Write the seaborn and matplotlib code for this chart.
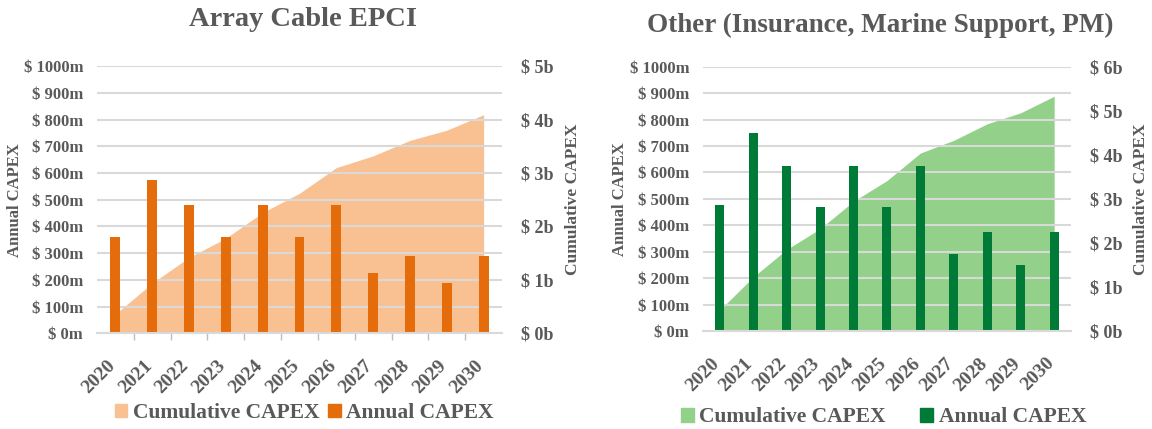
import matplotlib
matplotlib.use("Agg")
import matplotlib.pyplot as plt
import matplotlib.transforms as mtransforms
import seaborn as sns
import pandas as pd
from matplotlib.patches import Patch
from matplotlib.ticker import FuncFormatter, FixedLocator

# Data
years = ["2020", "2021", "2022", "2023", "2024", "2025", "2026", "2027", "2028", "2029", "2030"]

cable_annual = [360, 575, 480, 360, 480, 360, 480, 225, 288, 190, 288]          # $m
cable_cumulative = [0.36, 0.94, 1.42, 1.78, 2.26, 2.62, 3.10, 3.32, 3.61, 3.80, 4.09]  # $b

other_annual = [475, 750, 625, 470, 625, 470, 625, 290, 375, 250, 375]          # $m
other_cumulative = [0.475, 1.225, 1.85, 2.32, 2.945, 3.415, 4.04, 4.33, 4.705, 4.955, 5.33]  # $b

TEXT = "#595959"
GRID = "#d9d9d9"

sns.set_theme(style="white")
plt.rcParams["font.family"] = ["Liberation Serif", "DejaVu Serif"]
plt.rcParams["font.weight"] = "bold"


def draw_panel(fig, rect, title, title_xy, title_size, annual, cumulative, cum_max,
               bar_color, area_color, ylabel_x, legend_xy, colspace, minor_ticks):
    ax = fig.add_axes(rect)
    ax2 = ax.twinx()
    df = pd.DataFrame({"year": years, "annual": annual, "cum": cumulative})

    # cumulative area on the secondary axis, drawn behind
    ax2.fill_between(range(len(years)), df["cum"], 0, color=area_color, lw=0)
    ax2.set_ylim(0, cum_max)
    ax2.yaxis.set_major_locator(FixedLocator(range(cum_max + 1)))
    ax2.yaxis.set_major_formatter(FuncFormatter(lambda v, p: f"$ {int(v)}b"))
    ax2.set_ylabel("Cumulative CAPEX", color=TEXT, fontsize=12.5, fontweight="bold",
                   rotation=90)
    ax2.yaxis.set_label_coords(ylabel_x[1], 0.5)
    ax2.tick_params(axis="y", colors=TEXT, labelsize=13, length=0, pad=14)
    for sp in ax2.spines.values():
        sp.set_visible(False)

    # annual bars on the primary axis, on top
    ax.set_zorder(ax2.get_zorder() + 1)
    ax.patch.set_visible(False)
    sns.barplot(data=df, x="year", y="annual", ax=ax, color=bar_color,
                width=0.27, saturation=1, edgecolor="none")
    ax.set_xlim(-0.5, len(years) - 0.5)
    ax.set_ylim(0, 1000)
    ax.yaxis.set_major_locator(FixedLocator(range(0, 1001, 100)))
    ax.yaxis.set_major_formatter(FuncFormatter(lambda v, p: f"$ {int(v)}m"))
    ax.grid(axis="y", color=GRID, lw=1.5)
    ax.set_axisbelow(True)
    ax.set_xlabel("")
    ax.set_ylabel("Annual CAPEX", color=TEXT, fontsize=12, fontweight="bold")
    ax.yaxis.set_label_coords(ylabel_x[0], 0.5)
    ax.tick_params(axis="y", colors=TEXT, labelsize=12, length=0, pad=10)
    ax.tick_params(axis="x", colors=TEXT, labelsize=14, length=0, pad=17)
    shift = mtransforms.ScaledTranslation(-9 / 100, 0, fig.dpi_scale_trans)
    for lab in ax.get_xticklabels():
        lab.set_rotation(45)
        lab.set_ha("right")
        lab.set_rotation_mode("anchor")
        lab.set_fontweight("bold")
        lab.set_transform(lab.get_transform() + shift)
    if minor_ticks:
        ax.xaxis.set_minor_locator(FixedLocator([i + 0.5 for i in range(len(years) - 1)]))
        ax.tick_params(axis="x", which="minor", length=5, width=1, color="#bfbfbf",
                       direction="out", bottom=True)
    for name, sp in ax.spines.items():
        sp.set_visible(name == "bottom")
    ax.spines["bottom"].set_color(GRID)
    ax.spines["bottom"].set_linewidth(1.5)

    fig.text(title_xy[0], title_xy[1], title, ha="center", va="center",
             fontsize=title_size, fontweight="bold", color=TEXT)

    handles = [Patch(color=area_color, label="Cumulative CAPEX"),
               Patch(color=bar_color, label="Annual CAPEX")]
    fig.legend(handles=handles, loc="center", bbox_to_anchor=legend_xy, ncol=2,
               frameon=False, handlelength=0.6, handleheight=0.6,
               handletextpad=0.25, columnspacing=colspace, labelcolor=TEXT,
               prop={"weight": "bold", "size": 15.5})


fig = plt.figure(figsize=(11.52, 4.29), dpi=100)

draw_panel(fig, [0.0842, 0.223, 0.3516, 0.623], "Array Cable EPCI", (0.263, 0.955), 20.5,
           cable_annual, cable_cumulative, 5, "#e46c0a", "#f9c091",
           (-0.183, 1.156), (0.264, 0.037), 0.4, True)
draw_panel(fig, [0.6102, 0.2284, 0.3194, 0.616], "Other (Insurance, Marine Support, PM)",
           (0.764, 0.94), 19.5, other_annual, other_cumulative, 6, "#007a37", "#93d08a",
           (-0.204, 1.168), (0.767, 0.027), 1.6, False)

fig.savefig("out.png", dpi=100)
